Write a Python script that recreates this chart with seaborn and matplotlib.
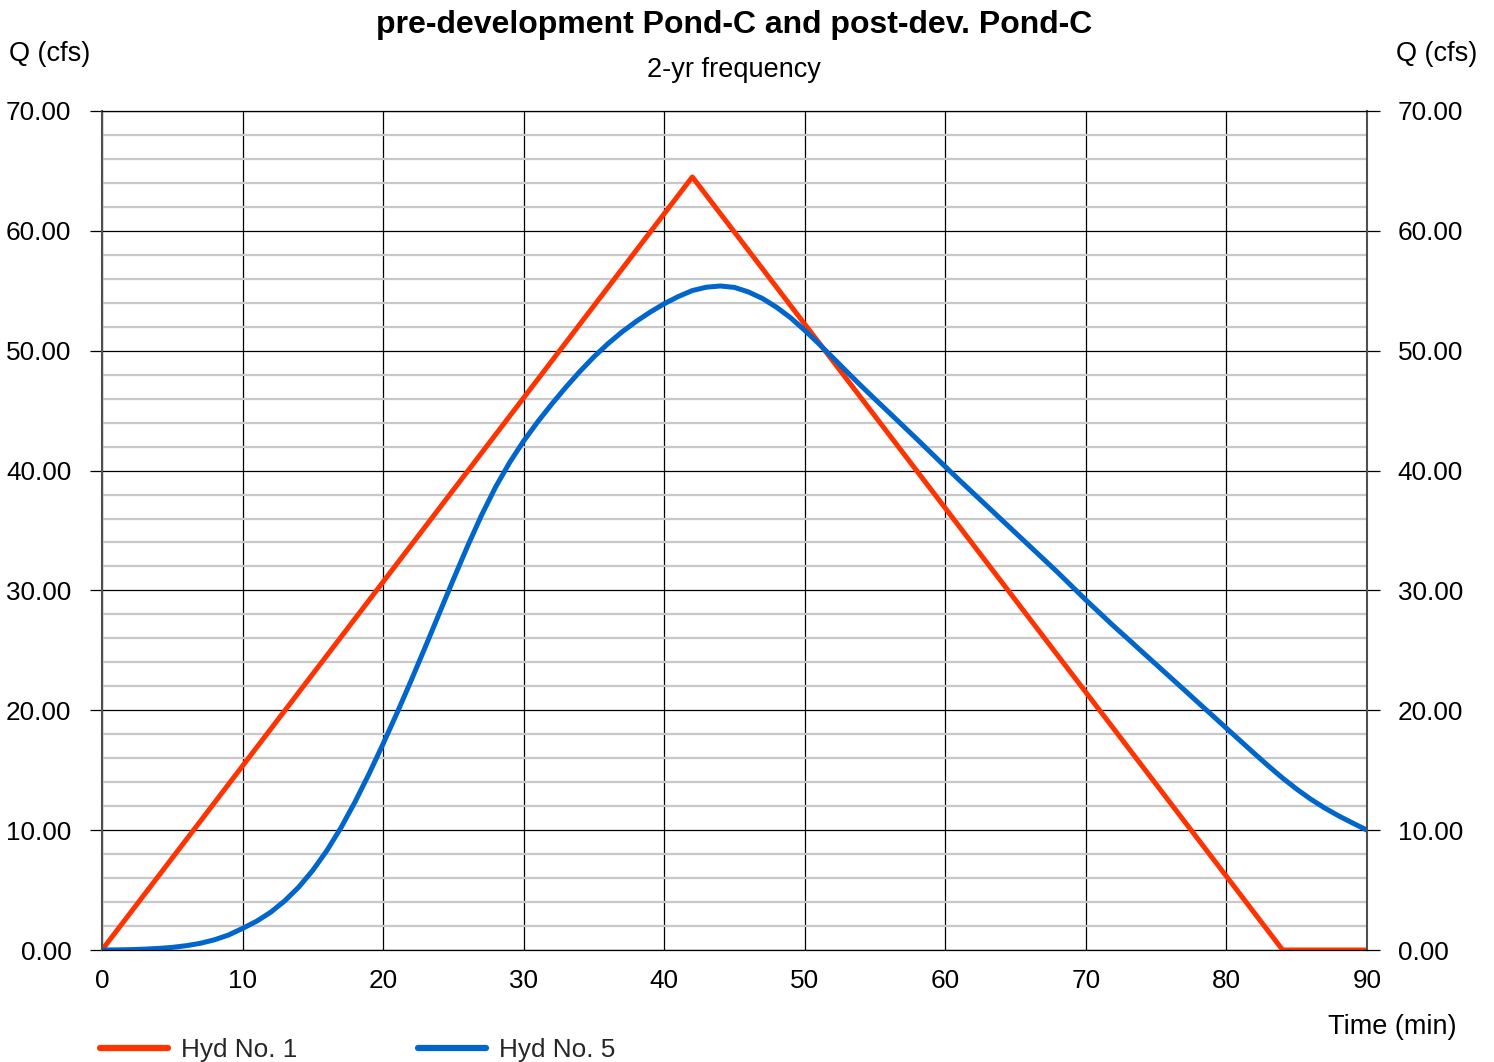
import numpy as np
import pandas as pd
import matplotlib
matplotlib.use("Agg")
import matplotlib.pyplot as plt
import seaborn as sns
from matplotlib.ticker import MultipleLocator, FormatStrFormatter

# ---- data ----
hyd1_time = [0, 42, 84, 90]
hyd1_q = [0.0, 64.5, 0.0, 0.0]

hyd5_time = list(range(0, 91))
hyd5_q = [
    0.00, 0.01, 0.03, 0.07, 0.13, 0.22, 0.36, 0.56, 0.85, 1.25,
    1.80, 2.40, 3.15, 4.10, 5.25, 6.65, 8.30, 10.20, 12.35, 14.70,
    17.20, 19.80, 22.50, 25.28, 28.10, 30.92, 33.67, 36.27, 38.62, 40.67,
    42.47, 44.07, 45.55, 46.95, 48.27, 49.49, 50.59, 51.57, 52.44, 53.22,
    53.92, 54.52, 55.02, 55.30, 55.40, 55.28, 54.90, 54.35, 53.62, 52.74,
    51.70, 50.58, 49.42, 48.24, 47.08, 45.95, 44.84, 43.72, 42.60, 41.46,
    40.32, 39.20, 38.10, 37.00, 35.90, 34.80, 33.70, 32.60, 31.50, 30.35,
    29.20, 28.10, 27.00, 25.95, 24.88, 23.82, 22.76, 21.70, 20.63, 19.57,
    18.50, 17.44, 16.38, 15.34, 14.34, 13.42, 12.58, 11.84, 11.18, 10.58,
    10.00,
]

series_names = ["Hyd No. 1", "Hyd No. 5"]
series_colors = ["#FF3300", "#0066CC"]

title = "pre-development Pond-C and post-dev. Pond-C"
subtitle = "2-yr frequency"
y_label = "Q (cfs)"
x_label = "Time (min)"

df = pd.concat([
    pd.DataFrame({"time": hyd1_time, "q": hyd1_q, "series": series_names[0]}),
    pd.DataFrame({"time": hyd5_time, "q": hyd5_q, "series": series_names[1]}),
], ignore_index=True)

# ---- style ----
sns.set_theme(style="white")
plt.rcParams["font.family"] = ["Liberation Sans", "DejaVu Sans"]
FS = 18.8
FS_LAB = 19.5

W, H = 1494, 1062
fig = plt.figure(figsize=(W / 100, H / 100), dpi=100)
L, R, T, B = 102, 1367, 111, 950
ax = fig.add_axes([L / W, 1 - B / H, (R - L) / W, (B - T) / H])

sns.lineplot(data=df, x="time", y="q", hue="series", hue_order=series_names,
             palette=series_colors, linewidth=3.6, ax=ax, sort=False,
             estimator=None, legend=True)
for ln in ax.get_lines():
    ln.set_solid_capstyle("round")
    ln.set_solid_joinstyle("round")

ax.set_xlim(0, 90)
ax.set_ylim(0, 70)
ax.xaxis.set_major_locator(MultipleLocator(10))
ax.yaxis.set_major_locator(MultipleLocator(10))
ax.yaxis.set_minor_locator(MultipleLocator(2))
ax.yaxis.set_major_formatter(FormatStrFormatter("%.2f"))
ax.set_axisbelow(True)

ax.grid(which="major", axis="both", color="black", linewidth=0.9)
ax.grid(which="minor", axis="y", color="#c8c8c8", linewidth=1.6)

for s in ["top", "bottom"]:
    ax.spines[s].set_color("black")
    ax.spines[s].set_linewidth(0.9)
for s in ["left", "right"]:
    ax.spines[s].set_color("#505050")
    ax.spines[s].set_linewidth(1.5)
    ax.spines[s].set_visible(True)

ax.tick_params(axis="y", which="major", direction="out", length=9, width=0.9,
               color="black", left=True, right=True, labelleft=True,
               labelright=True, labelsize=FS, labelcolor="black", pad=13)
ax.tick_params(axis="y", which="minor", length=0)
ax.tick_params(axis="x", which="major", length=0, labelsize=FS,
               labelcolor="black", pad=14)
ax.set_xlabel("")
ax.set_ylabel("")

# titles and axis labels
fig.text(734 / W, 1 - 25 / H, title, ha="center", va="center",
         fontsize=23, fontweight="bold", color="black")
fig.text(734 / W, 1 - 70 / H, subtitle, ha="center", va="center",
         fontsize=FS_LAB, color="black")
fig.text(50 / W, 1 - 54 / H, y_label, ha="center", va="center",
         fontsize=FS_LAB, color="black")
fig.text(1437 / W, 1 - 54 / H, y_label, ha="center", va="center",
         fontsize=FS_LAB, color="black")
fig.text(1392 / W, 1 - 1027 / H, x_label, ha="center", va="center",
         fontsize=FS_LAB, color="black")

# legend
handles, labels = ax.get_legend_handles_labels()
for h in handles:
    h.set_linewidth(4.5)
    h.set_solid_capstyle("round")
ax.legend(handles, labels, loc="center left",
          bbox_to_anchor=(100 / W, 1 - 1050 / H), bbox_transform=fig.transFigure,
          ncol=2, frameon=False, fontsize=FS, handlelength=2.6,
          handletextpad=0.5, columnspacing=4.64, borderpad=0,
          borderaxespad=0)

fig.savefig("out.png", dpi=100)
